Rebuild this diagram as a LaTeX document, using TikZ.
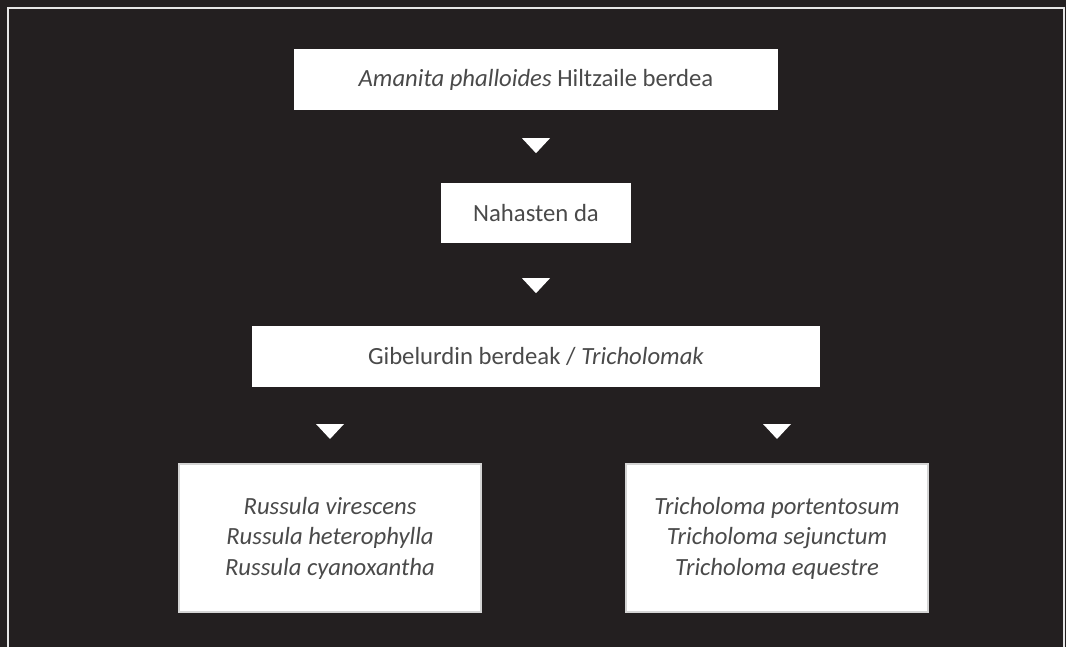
\documentclass[tikz,border=0pt]{standalone}
\usepackage{fontspec}
\setmainfont{Carlito}
\usetikzlibrary{calc}
\definecolor{bg}{HTML}{231F20}
\definecolor{txt}{HTML}{4A4A4A}
\definecolor{frame}{HTML}{E6E6E6}
\definecolor{edge}{HTML}{D4D4D4}
\begin{document}
\begin{tikzpicture}[x=1pt,y=-1pt,
  box/.style={fill=white, draw=none, inner sep=0pt, text=txt, font=\fontsize{24.7}{30.5}\selectfont, align=center},
  listbox/.style={box, draw=edge, line width=2pt},
  tri/.style={fill=white}]
\fill[bg] (0,0) rectangle (1066,647);
\useasboundingbox (0,0) rectangle (1066,647);
\draw[frame, line width=2.5pt] (8,670) -- (8,8) -- (1064,8) -- (1064,670);
\node[box, minimum width=484, minimum height=61] (a) at (536,79.5) {\textit{Amanita phalloides} Hiltzaile berdea};
\node[box, minimum width=190, minimum height=60] (b) at (536,213) {Nahasten da};
\node[box, minimum width=568, minimum height=61] (c) at (536,356.5) {Gibelurdin berdeak / \textit{Tricholomak}};
\node[listbox, minimum width=302, minimum height=148] (d) at (330,538) {\itshape Russula virescens\\\itshape Russula heterophylla\\\itshape Russula cyanoxantha};
\node[listbox, minimum width=302, minimum height=148] (e) at (777,538) {\itshape Tricholoma portentosum\\\itshape Tricholoma sejunctum\\\itshape Tricholoma equestre};
\fill[tri] ($(a.south)+(-14,28)$) -- ++(28,0) -- ++(-14,15) -- cycle;
\fill[tri] ($(b.south)+(-14,35)$) -- ++(28,0) -- ++(-14,15) -- cycle;
\fill[tri] ($(d.north)+(-14,-39)$) -- ++(28,0) -- ++(-14,15) -- cycle;
\fill[tri] ($(e.north)+(-14,-39)$) -- ++(28,0) -- ++(-14,15) -- cycle;
\end{tikzpicture}
\end{document}
